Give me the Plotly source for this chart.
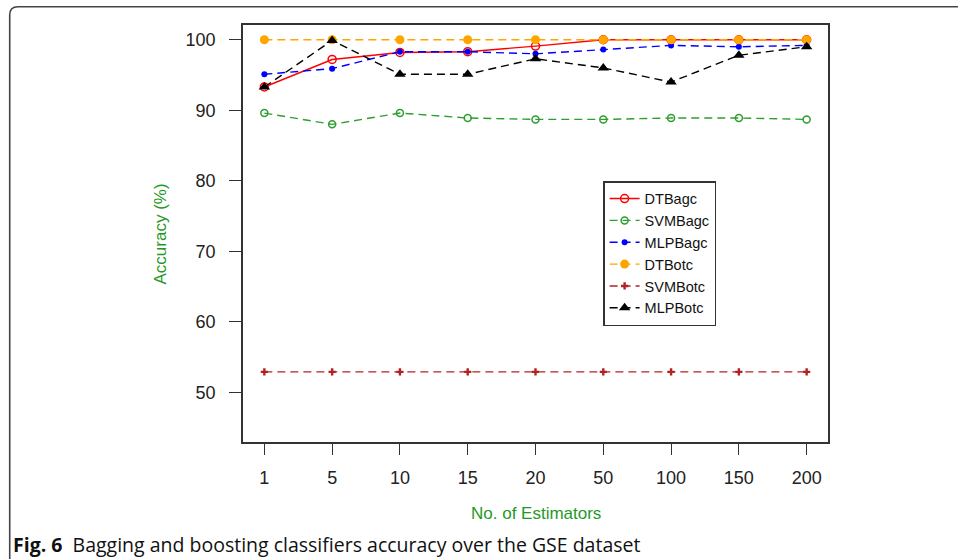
import plotly.graph_objects as go

estimators = ["1", "5", "10", "15", "20", "50", "100", "150", "200"]
dt_bagc = [93.3, 97.2, 98.2, 98.3, 99.1, 100, 100, 100, 100]
svm_bagc = [89.6, 88.0, 89.6, 88.9, 88.7, 88.7, 88.9, 88.9, 88.7]
mlp_bagc = [95.1, 95.9, 98.3, 98.3, 98.0, 98.6, 99.2, 99.0, 99.2]
dt_botc = [100, 100, 100, 100, 100, 100, 100, 100, 100]
svm_botc = [52.9, 52.9, 52.9, 52.9, 52.9, 52.9, 52.9, 52.9, 52.9]
mlp_botc = [93.3, 99.9, 95.1, 95.1, 97.3, 96.0, 94.0, 97.8, 99.0]

W, H = 958, 559
L, R, T, B = 242.7, 828.0, 25.0, 441.7
PW, PH = R - L, B - T

def px(x):
    return (x - L) / PW

def py(y):
    return (B - y) / PH

font_main = "Liberation Sans, Arial, sans-serif"
dash = "8px,5px"

fig = go.Figure()
series = [
    ("DTBagc", dt_bagc, "#FF0000", "solid", "circle-open", 8),
    ("SVMBagc", svm_bagc, "#2E9E2E", dash, "circle-open", 7),
    ("MLPBagc", mlp_bagc, "#0000FF", dash, "circle", 6),
    ("DTBotc", dt_botc, "#FFA500", dash, "circle", 9),
    ("SVMBotc", svm_botc, "#B22222", dash, "cross", 6),
    ("MLPBotc", mlp_botc, "#000000", dash, "triangle-up", 10),
]
for name, vals, color, d, sym, size in series:
    fig.add_trace(go.Scatter(
        x=estimators, y=vals, name=name, mode="lines+markers",
        line=dict(color=color, width=1.4, dash=d),
        marker=dict(symbol=sym, size=size, color=color,
                    line=dict(color=color, width=1.5 if "open" in sym else 0)),
    ))

fig.update_layout(
    width=W, height=H,
    margin=dict(l=L, r=W - R, t=T, b=H - B, pad=0),
    paper_bgcolor="white", plot_bgcolor="white",
    font=dict(family=font_main, color="#222222"),
    showlegend=True,
    legend=dict(
        x=px(603), y=py(181), xanchor="left", yanchor="top",
        bgcolor="white", bordercolor="#333333", borderwidth=1.5,
        font=dict(family=font_main, size=14.5, color="#111111"),
        tracegroupgap=0, itemwidth=30,
    ),
    xaxis=dict(
        type="category", range=[-0.315, 8.315],
        showline=True, linecolor="#333333", linewidth=1.8, mirror=True,
        ticks="outside", ticklen=11, tickwidth=1.3, tickcolor="#333333",
        tickfont=dict(size=18, family=font_main, color="#222222"),
        showgrid=False, zeroline=False, ticklabelstandoff=7,
    ),
    yaxis=dict(
        range=[42.95, 102.09],
        tickvals=[50, 60, 70, 80, 90, 100],
        showline=True, linecolor="#333333", linewidth=1.8, mirror=True,
        ticks="outside", ticklen=12, tickwidth=1.3, tickcolor="#333333",
        tickfont=dict(size=18, family=font_main, color="#222222"),
        showgrid=False, zeroline=False, ticklabelstandoff=10,
    ),
    annotations=[
        dict(text="No. of Estimators", xref="paper", yref="paper",
             x=0.5, y=py(513), xanchor="center", yanchor="middle",
             showarrow=False, font=dict(size=17, family=font_main, color="#1f9a1f")),
        dict(text="Accuracy (%)", xref="paper", yref="paper",
             x=px(160), y=py(234), xanchor="center", yanchor="middle", textangle=-90,
             showarrow=False, font=dict(size=17, family=font_main, color="#1f9a1f")),
        dict(text="<b>Fig. 6</b>  Bagging and boosting classifiers accuracy over the GSE dataset",
             xref="paper", yref="paper", x=px(11), y=py(544), xanchor="left", yanchor="middle",
             showarrow=False, font=dict(size=19.5, family="Open Sans, sans-serif", color="#111111")),
    ],
    shapes=[
        dict(type="path", xref="paper", yref="paper",
             path=f"M {px(9.3)},{py(559)} L {px(9.3)},{py(15)} Q {px(9.3)},{py(6.8)} {px(17.5)},{py(6.8)} L {px(958)},{py(6.8)}",
             line=dict(color="#444444", width=1.6)),
    ],
)

fig.write_html("out.html")
